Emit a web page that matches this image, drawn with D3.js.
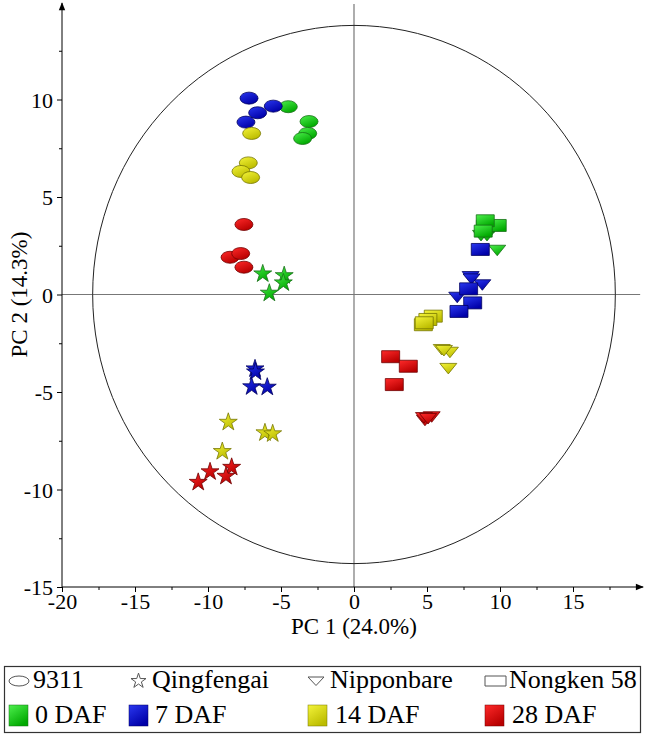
<!DOCTYPE html>
<html><head><meta charset="utf-8">
<script src="https://cdn.jsdelivr.net/npm/d3@7"></script>
<style>
body{margin:0;background:#fff}
svg{display:block}
svg text{font-family:"Times New Roman","Liberation Serif",Tinos,"Nimbus Roman",FreeSerif,"Noto Serif","DejaVu Serif",serif;fill:#000}
</style>
</head><body>
<svg id="c" width="650" height="737"></svg>
<script>
// ---- data ----
const genotypes = ["9311", "Qingfengai", "Nipponbare", "Nongken 58"];
const stages = ["0 DAF", "7 DAF", "14 DAF", "28 DAF"];
const xTicks = [-20, -15, -10, -5, 0, 5, 10, 15];
const yTicks = [-15, -10, -5, 0, 5, 10];
const xLabel = "PC 1 (24.0%)";
const yLabel = "PC 2 (14.3%)";

// [stage, PC1, PC2]
const pts9311 = [
  ["0 DAF", -4.50, 9.63], ["0 DAF", -3.08, 8.87], ["0 DAF", -3.17, 8.26], ["0 DAF", -3.52, 8.00],
  ["7 DAF", -7.19, 10.07], ["7 DAF", -5.53, 9.66], ["7 DAF", -6.60, 9.32], ["7 DAF", -7.40, 8.84],
  ["14 DAF", -7.01, 8.26], ["14 DAF", -7.24, 6.75], ["14 DAF", -7.74, 6.31], ["14 DAF", -7.08, 6.00],
  ["28 DAF", -7.54, 3.59], ["28 DAF", -8.49, 1.91], ["28 DAF", -7.76, 2.10], ["28 DAF", -7.54, 1.40]
];
const ptsQingfengai = [
  ["0 DAF", -6.25, 1.06], ["0 DAF", -4.78, 0.97], ["0 DAF", -4.84, 0.60], ["0 DAF", -5.80, 0.07],
  ["7 DAF", -6.78, -3.81], ["7 DAF", -6.75, -3.97], ["7 DAF", -7.01, -4.73], ["7 DAF", -5.94, -4.75],
  ["14 DAF", -8.61, -6.55], ["14 DAF", -6.10, -7.09], ["14 DAF", -5.57, -7.14], ["14 DAF", -9.02, -8.05],
  ["28 DAF", -8.38, -8.86], ["28 DAF", -9.86, -9.09], ["28 DAF", -8.77, -9.32], ["28 DAF", -10.67, -9.63]
];
const ptsNipponbare = [
  ["0 DAF", 9.81, 2.27], ["0 DAF", 8.70, 3.03], ["0 DAF", 9.11, 3.03], ["0 DAF", 8.90, 3.18],
  ["7 DAF", 7.99, 0.92], ["7 DAF", 8.79, 0.50], ["7 DAF", 7.07, -0.14], ["7 DAF", 8.05, 0.80],
  ["14 DAF", 6.01, -2.82], ["14 DAF", 6.57, -2.96], ["14 DAF", 6.46, -3.79], ["14 DAF", 6.16, -2.87],
  ["28 DAF", 4.86, -6.45], ["28 DAF", 5.32, -6.27], ["28 DAF", 4.79, -6.31], ["28 DAF", 5.07, -6.36]
];
const ptsNongken58 = [
  ["0 DAF", 9.00, 3.50], ["0 DAF", 9.81, 3.54], ["0 DAF", 8.99, 3.78], ["0 DAF", 8.85, 3.25],
  ["7 DAF", 8.65, 2.31], ["7 DAF", 7.85, 0.29], ["7 DAF", 8.13, -0.43], ["7 DAF", 7.19, -0.87],
  ["14 DAF", 5.43, -1.11], ["14 DAF", 4.75, -1.55], ["14 DAF", 5.06, -1.28], ["14 DAF", 4.81, -1.45],
  ["28 DAF", 2.51, -3.19], ["28 DAF", 3.72, -3.68], ["28 DAF", 2.76, -4.62]
];
const ellipseR = [17.9, 13.8]; // confidence ellipse radii in data units

// ---- styling ----
const stageColors = {
  "0 DAF":  {light: "#4ef04e", dark: "#00a800", stroke: "#167016"},
  "7 DAF":  {light: "#2a38f0", dark: "#0000a8", stroke: "#000060"},
  "14 DAF": {light: "#f4f43a", dark: "#bcbc00", stroke: "#767600"},
  "28 DAF": {light: "#ff2a2a", dark: "#b80000", stroke: "#700000"}
};

const svg = d3.select("#c");
const x = d3.scaleLinear().domain([-20, 20]).range([62, 646]);
const y = d3.scaleLinear().domain([-15, 15]).range([587, 2]);

const defs = svg.append("defs");
stages.forEach((s, i) => {
  const g = defs.append("linearGradient").attr("id", "g" + i)
    .attr("x1", 0).attr("y1", 0).attr("x2", 0.6).attr("y2", 1);
  g.append("stop").attr("offset", "0%").attr("stop-color", stageColors[s].light);
  g.append("stop").attr("offset", "100%").attr("stop-color", stageColors[s].dark);
});
defs.append("marker").attr("id", "arrow").attr("viewBox", "0 0 10 10")
  .attr("refX", 9).attr("refY", 5).attr("markerWidth", 10).attr("markerHeight", 8)
  .attr("markerUnits", "userSpaceOnUse").attr("orient", "auto")
  .append("path").attr("d", "M0,1L10,5L0,9Z").attr("fill", "#000");

// crosshair + ellipse
svg.append("line").attr("x1", x(-20)).attr("x2", x(19.6)).attr("y1", y(0)).attr("y2", y(0))
  .attr("stroke", "#777").attr("stroke-width", 1.2);
svg.append("line").attr("x1", x(0)).attr("x2", x(0)).attr("y1", y(-15)).attr("y2", y(14.9))
  .attr("stroke", "#777").attr("stroke-width", 1.2);
svg.append("ellipse").attr("cx", x(0)).attr("cy", y(0))
  .attr("rx", x(ellipseR[0]) - x(0)).attr("ry", y(0) - y(ellipseR[1]))
  .attr("fill", "none").attr("stroke", "#222").attr("stroke-width", 1);

// axes
const fmt = d => String(d);
const axX = svg.append("g").attr("transform", `translate(0,${y(-15)})`);
axX.call(d3.axisBottom(x).tickValues(xTicks).tickSize(5).tickPadding(1).tickFormat(fmt));
const axXm = svg.append("g").attr("transform", `translate(0,${y(-15)})`);
axXm.call(d3.axisBottom(x).tickValues(d3.range(-17.5, 20, 5)).tickSize(3).tickFormat(""));
const axY = svg.append("g").attr("transform", `translate(${x(-20)},0)`);
axY.call(d3.axisLeft(y).tickValues(yTicks).tickSize(5).tickPadding(4).tickFormat(fmt));
const axYm = svg.append("g").attr("transform", `translate(${x(-20)},0)`);
axYm.call(d3.axisLeft(y).tickValues(d3.range(-12.5, 15, 5)).tickSize(3).tickFormat(""));
[axX, axXm, axY, axYm].forEach(a => {
  a.attr("font-family", null).attr("font-size", null);
  a.select(".domain").remove();
  a.selectAll(".tick line").attr("stroke", "#000");
  a.selectAll("text").style("font-size", "22px").attr("fill", "#000");
});
axY.selectAll("text").attr("dy", "0.35em");
svg.append("line").attr("x1", x(-20)).attr("x2", x(19.8)).attr("y1", y(-15)).attr("y2", y(-15))
  .attr("stroke", "#000").attr("stroke-width", 1).attr("marker-end", "url(#arrow)");
svg.append("line").attr("x1", x(-20)).attr("x2", x(-20)).attr("y1", y(-15)).attr("y2", y(14.95))
  .attr("stroke", "#000").attr("stroke-width", 1).attr("marker-end", "url(#arrow)");

svg.append("text").attr("x", x(0)).attr("y", 634).attr("text-anchor", "middle")
  .style("font-size", "23px").text(xLabel);
svg.append("text").attr("transform", `translate(27,${y(0)}) rotate(-90)`).attr("text-anchor", "middle")
  .style("font-size", "23px").text(yLabel);

// symbol shapes (sizes in px)
const shapes = {
  "9311": () => "M-9,0A9,6 0 1,0 9,0A9,6 0 1,0 -9,0Z",
  "Qingfengai": () => d3.symbol(d3.symbolStar, 100)(),
  "Nipponbare": () => "M-8.5,-5L8.5,-5L0,5.5Z",
  "Nongken 58": () => "M-9,-6H9V6H-9Z"
};
const series = [[genotypes[0], pts9311], [genotypes[1], ptsQingfengai],
                [genotypes[2], ptsNipponbare], [genotypes[3], ptsNongken58]];
series.forEach(([gname, pts]) => {
  svg.append("g").selectAll("path").data(pts).join("path")
    .attr("transform", d => `translate(${x(d[1])},${y(d[2])})`)
    .attr("d", shapes[gname]())
    .attr("fill", d => `url(#g${stages.indexOf(d[0])})`)
    .attr("stroke", d => stageColors[d[0]].stroke)
    .attr("stroke-width", 0.8);
});

// legend
svg.append("rect").attr("x", 4.5).attr("y", 666.5).attr("width", 636).attr("height", 66)
  .attr("fill", "#fff").attr("stroke", "#333").attr("stroke-width", 1.2);
const legX = [9, 130, 308, 485];
const legT = [33, 152, 330, 509];
const legSym = [
  "M-10,0A10,5 0 1,0 10,0A10,5 0 1,0 -10,0Z",
  d3.symbol(d3.symbolStar, 70)(),
  "M-8,-4L8,-4L0,4.5Z",
  "M-10.5,-5H10.5V5H-10.5Z"
];
const legSymW = [20, 17, 16, 21];
genotypes.forEach((gname, i) => {
  svg.append("path").attr("d", legSym[i])
    .attr("transform", `translate(${legX[i] + legSymW[i] / 2},681)`)
    .attr("fill", "#fff").attr("stroke", "#555").attr("stroke-width", 1);
  svg.append("text").attr("x", legT[i]).attr("y", 688).style("font-size", "26px").text(gname);
});
const legX2 = [9, 129, 308, 485];
const legT2 = [35, 155, 335, 512];
stages.forEach((s, i) => {
  svg.append("rect").attr("x", legX2[i]).attr("y", 705).attr("width", 19).attr("height", 21)
    .attr("fill", `url(#g${i})`).attr("stroke", stageColors[s].stroke).attr("stroke-width", 0.5);
  svg.append("text").attr("x", legT2[i]).attr("y", 723).style("font-size", "26px").text(s);
});
</script>
</body></html>
